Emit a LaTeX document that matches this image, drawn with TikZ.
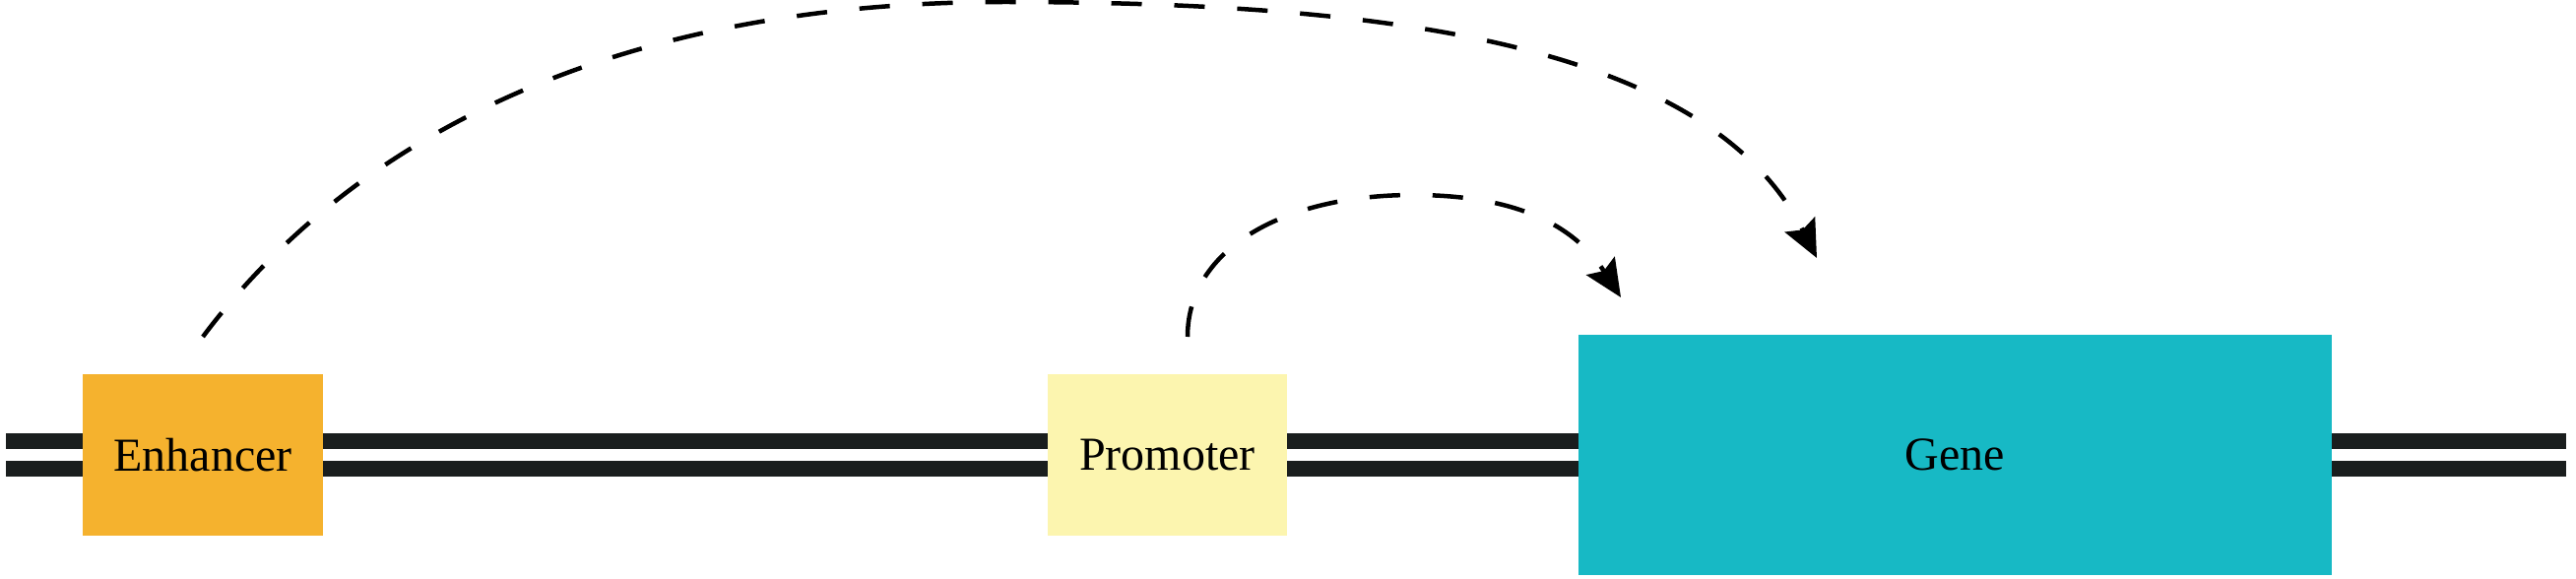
\documentclass[tikz,border=0pt]{standalone}
\usepackage{fontspec}
\setmainfont{Liberation Serif}
\usetikzlibrary{arrows.meta}
\definecolor{enhcol}{HTML}{F5B22E}
\definecolor{procol}{HTML}{FCF5AF}
\definecolor{genecol}{HTML}{17B9C5}
\definecolor{dnacol}{HTML}{1A1E1E}
\tikzset{
  elem/.style={draw=none, inner sep=0pt, minimum height=164pt, font=\fontsize{48}{58}\selectfont, text=black},
  strand/.style={line width=16pt, draw=dnacol},
  loop/.style={line width=4.5pt, dash pattern=on 31pt off 33pt, draw=black,
    -{Stealth[length=38pt,width=34pt,inset=6pt]}}
}
\begin{document}
\begin{tikzpicture}[x=1pt,y=-1pt]
\useasboundingbox (0,0) rectangle (2616,588);
% DNA strands
\coordinate (L) at (6,462);
\coordinate (R) at (2606,462);
\draw[strand] ([yshift=14pt]L) -- ([yshift=14pt]R);
\draw[strand] ([yshift=-14pt]L) -- ([yshift=-14pt]R);
% elements
\node[elem, fill=enhcol, minimum width=244pt] (enh) at (206,462) {Enhancer};
\node[elem, fill=procol, minimum width=243pt] (pro) at (1185.5,462) {Promoter};
\node[elem, fill=genecol, minimum width=765pt, minimum height=244pt] (gene) at (1985.5,462) {Gene};
% loop ends
\coordinate (es) at (206,342);
\coordinate (ep) at (1020,2);
\coordinate (et) at (1845,262);
\coordinate (ps) at (1206,342);
\coordinate (pp) at (1435,198);
\coordinate (pt) at (1646,302);
\draw[loop] (es) .. controls (356,142) and (620,2) .. (ep)
  .. controls (1420,2) and (1737,48) .. (et);
\draw[loop] (ps) .. controls (1206,252) and (1305,198) .. (pp)
  .. controls (1535,198) and (1597,226) .. (pt);
\end{tikzpicture}
\end{document}
